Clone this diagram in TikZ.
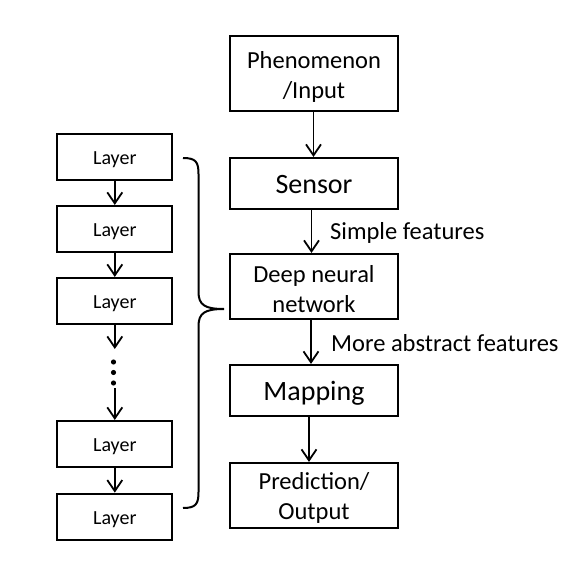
\documentclass[tikz,border=0pt]{standalone}
\usepackage{fontspec}
\setmainfont{Carlito}
\usetikzlibrary{arrows.meta}
\newcommand{\twoline}[3]{\raisebox{-#1}[\height][\depth]{\begin{tabular}{@{}c@{}}#2\\#3\end{tabular}}}
\begin{document}
\begin{tikzpicture}[x=1pt,y=-1pt,
  box/.style={draw,line width=2.1pt,inner sep=0pt,minimum width=168pt},
  layerbox/.style={draw,line width=2.1pt,inner sep=0pt,minimum width=115pt,minimum height=46pt,text height=14.6pt,text depth=0pt,font=\fontsize{20}{24}\selectfont},
  midfont/.style={font=\fontsize{24.5}{30}\selectfont},
  bigfont/.style={font=\fontsize{28}{32}\selectfont,text height=20pt,text depth=0pt},
  arr/.style={line width=1.8pt,-{Straight Barb[length=11pt,width=15pt,line width=1.8pt]}},
  lbl/.style={anchor=west,inner sep=0pt,font=\fontsize{24.5}{30}\selectfont}]
\useasboundingbox (0,0) rectangle (587,562);
% right column
\node[box,midfont,minimum height=75pt] (ph) at (314,73.5) {\twoline{4pt}{Phenomenon}{/Input}};
\node[box,bigfont,minimum height=51pt] (se) at (314,183.5) {Sensor};
\node[box,midfont,minimum height=65pt] (dn) at (314,286.5) {\twoline{4.5pt}{Deep neural}{network}};
\node[box,bigfont,minimum height=51pt] (ma) at (314,390.5) {Mapping};
\node[box,midfont,minimum height=65pt] (pr) at (314,495.5) {\twoline{3pt}{Prediction/}{Output}};
\draw[arr] ([xshift=-0.5pt]ph.south) -- ([xshift=-0.5pt]se.north);
\draw[arr] ([xshift=-2.5pt]se.south) -- ([xshift=-2.5pt]dn.north);
\draw[arr] ([xshift=-3pt]dn.south) -- ([xshift=-3pt]ma.north);
\draw[arr] ([xshift=-5pt]ma.south) -- ([xshift=-5pt]pr.north);
\node[lbl] (sf) at (330,233) {Simple features};
\node[lbl] (mf) at (331,343) {More abstract features};
% left column
\node[layerbox] (l1) at (114.8,157) {Layer};
\node[layerbox] (l2) at (114.8,229) {Layer};
\node[layerbox] (l3) at (114.8,301) {Layer};
\node[layerbox] (l4) at (114.8,444) {Layer};
\node[layerbox] (l5) at (114.8,516.7) {Layer};
\draw[arr] (l1) -- (l2);
\draw[arr] (l2) -- (l3);
\coordinate (d1) at (114.8,349);
\coordinate (d2) at (114.8,388);
\draw[arr] (l3) -- (d1);
\draw[arr] (d2) -- (l4);
\draw[arr] (l4) -- (l5);
\fill (113.5,362) circle (2.6pt) (113.5,372.5) circle (2.6pt) (113.5,383) circle (2.6pt);
% brace
\coordinate (bt) at (183,158);
\coordinate (bm) at (224,309);
\coordinate (bb) at (183,508);
\draw[line width=2pt] (bt) .. controls (196,158) and (198.5,162) .. (198.5,174) -- (198.5,292)
  .. controls (198.5,305) and (205,309) .. (bm)
  .. controls (205,309) and (198.5,313) .. (198.5,326) -- (198.5,492)
  .. controls (198.5,504) and (196,508) .. (bb);
\end{tikzpicture}
\end{document}
